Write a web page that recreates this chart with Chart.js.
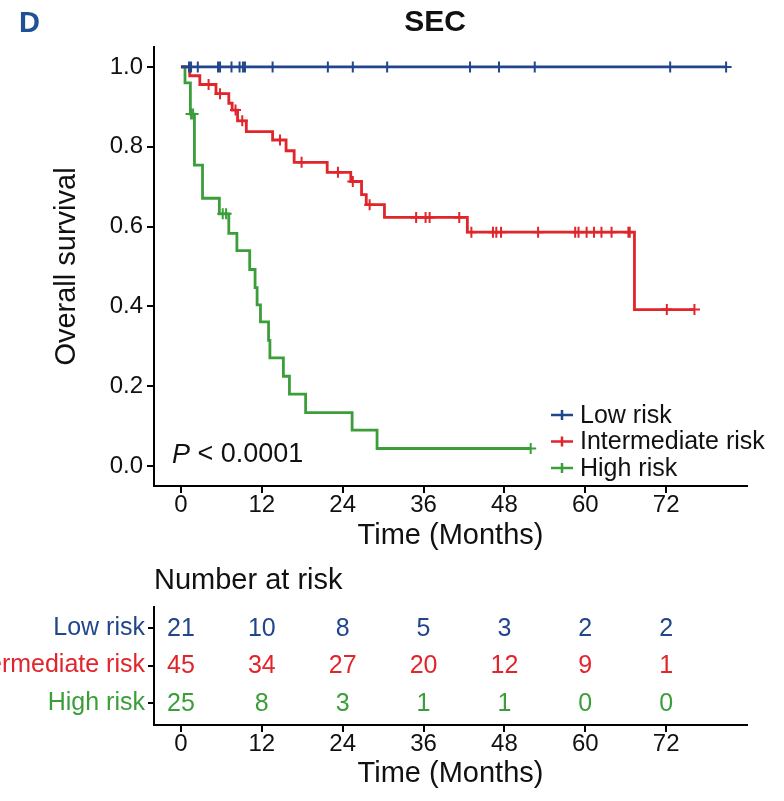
<!DOCTYPE html>
<html>
<head>
<meta charset="utf-8">
<title>SEC overall survival</title>
<script src="https://cdn.jsdelivr.net/npm/chart.js@4.4.1/dist/chart.umd.min.js"></script>
<style>
  body { margin: 0; background: #fff; }
  #wrap { position: relative; width: 784px; height: 801px; }
  #km { position: absolute; left: 0; top: 0; }
  #risk { position: absolute; left: 0; top: 560px; }
</style>
</head>
<body>
<div id="wrap">
  <canvas id="km" width="784" height="560"></canvas>
  <canvas id="risk" width="784" height="241"></canvas>
</div>
<script>
const groups = ['Low risk', 'Intermediate risk', 'High risk'];
const groupColors = ['#22468c', '#e0252b', '#3b9e3b'];
const timeTicks = [0, 12, 24, 36, 48, 60, 72];
const survivalTicks = [0, 0.2, 0.4, 0.6, 0.8, 1.0];

// KM steps: time of each drop (months) and survival right after it
const lowTimes = [0];
const lowSurv = [1.0];
const lowEnd = 80.9;
const lowCensored = [1.2, 1.5, 2.5, 5.5, 5.8, 7.5, 8.7, 9.2, 9.5, 13.6, 21.8, 25.5, 30.6, 42.9, 47.2, 52.5, 72.6, 80.9];

const midTimes = [0, 1.3, 2.8, 5.2, 7.1, 7.6, 8.4, 9.7, 13.6, 15.6, 16.8, 21.7, 25.2, 26.8, 27.5, 30.2, 42.5, 67.3];
const midSurv = [1.0, 0.978, 0.956, 0.933, 0.909, 0.892, 0.865, 0.838, 0.817, 0.790, 0.761, 0.736, 0.713, 0.680, 0.655, 0.623, 0.586, 0.392];
const midEnd = 76.2;
const midCensored = [4.1, 5.8, 8.1, 9.1, 14.7, 17.9, 23.3, 25.5, 28.0, 34.9, 36.3, 36.9, 41.3, 43.1, 46.3, 46.8, 47.5, 53.0, 58.5, 59.0, 60.2, 61.3, 62.4, 63.9, 66.4, 66.6, 72.1, 76.2];

const highTimes = [0, 0.6, 1.4, 2.0, 3.2, 5.7, 7.1, 8.3, 10.2, 11.0, 11.3, 11.8, 13.0, 13.2, 15.2, 16.1, 18.5, 25.4, 29.1];
const highSurv = [1.0, 0.96, 0.882, 0.754, 0.671, 0.632, 0.583, 0.54, 0.4925, 0.447, 0.404, 0.361, 0.315, 0.271, 0.225, 0.18, 0.134, 0.09, 0.044];
const highEnd = 51.9;
const highCensored = [1.5, 1.8, 6.2, 6.7, 51.9];

// number at risk at each time tick
const atRiskLow = [21, 10, 8, 5, 3, 2, 2];
const atRiskMid = [45, 34, 27, 20, 12, 9, 1];
const atRiskHigh = [25, 8, 3, 1, 1, 0, 0];

const FONT = '"Liberation Sans", Arial, Helvetica, sans-serif';
const INK = '#111';
Chart.defaults.font.family = FONT;
Chart.defaults.color = INK;

function stepPoints(times, surv, end) {
  const pts = times.map((t, i) => ({ x: t, y: surv[i] }));
  pts.push({ x: end, y: surv[surv.length - 1] });
  return pts;
}

function survivalAt(times, surv, t) {
  let s = surv[0];
  times.forEach((ti, i) => { if (ti <= t) s = surv[i]; });
  return s;
}

const curves = [
  [lowTimes, lowSurv, lowEnd, lowCensored],
  [midTimes, midSurv, midEnd, midCensored],
  [highTimes, highSurv, highEnd, highCensored]
];

const kmDatasets = [];
curves.forEach(([times, surv, end, censored], i) => {
  kmDatasets.push({
    type: 'line',
    label: groups[i],
    data: stepPoints(times, surv, end),
    stepped: true,
    borderColor: groupColors[i],
    borderWidth: 2.8,
    pointRadius: 0,
    fill: false
  });
  kmDatasets.push({
    type: 'scatter',
    label: groups[i] + ' (censored)',
    data: censored.map(t => ({ x: t, y: survivalAt(times, surv, t) })),
    pointStyle: 'cross',
    pointRadius: 5.5,
    borderColor: groupColors[i],
    borderWidth: 2,
    showLine: false
  });
});

function axisGrid(len) {
  return { display: true, drawOnChartArea: false, drawTicks: true, tickLength: len, color: '#000', lineWidth: 2 };
}
const axisBorder = { display: true, color: '#000', width: 2 };

function timeAxis(height, titlePad) {
  return {
    type: 'linear',
    min: -4,
    max: 84,
    afterBuildTicks: s => { s.ticks = timeTicks.map(v => ({ value: v })); },
    afterFit: s => { s.height = height; },
    ticks: { font: { size: 24 }, color: INK, padding: -2, maxRotation: 0, autoSkip: false },
    grid: axisGrid(7),
    border: axisBorder,
    title: { display: true, text: 'Time (Months)', font: { size: 29 }, color: INK, padding: { top: 0, bottom: titlePad } }
  };
}

// headline, legend and p value drawn on the survival panel
const kmDecor = {
  id: 'kmDecor',
  afterDraw(chart) {
    const { ctx, chartArea } = chart;
    ctx.save();
    ctx.textBaseline = 'middle';

    ctx.fillStyle = '#1d5395';
    ctx.font = 'bold 29px ' + FONT;
    ctx.textAlign = 'left';
    ctx.fillText('D', 19, 24);

    ctx.fillStyle = INK;
    ctx.font = 'bold 30px ' + FONT;
    ctx.textAlign = 'center';
    ctx.fillText('SEC', 435, 23);

    ctx.textAlign = 'left';
    ctx.font = '25px ' + FONT;
    const x0 = chartArea.right - 196;
    groups.forEach((name, i) => {
      const y = chartArea.bottom - 71 + i * 26.5;
      ctx.strokeStyle = groupColors[i];
      ctx.lineWidth = 2.5;
      ctx.beginPath();
      ctx.moveTo(x0, y);
      ctx.lineTo(x0 + 22, y);
      ctx.moveTo(x0 + 11, y - 5);
      ctx.lineTo(x0 + 11, y + 5);
      ctx.stroke();
      ctx.fillStyle = INK;
      ctx.fillText(name, x0 + 29, y + 1);
    });

    const px = chartArea.left + 18;
    const py = chartArea.bottom - 31;
    ctx.font = 'italic 27px ' + FONT;
    ctx.fillText('P', px, py);
    const pw = ctx.measureText('P').width;
    ctx.font = '27px ' + FONT;
    ctx.fillText(' < 0.0001', px + pw, py);
    ctx.restore();
  }
};

new Chart(document.getElementById('km'), {
  data: { datasets: kmDatasets },
  options: {
    responsive: false,
    animation: false,
    layout: { padding: { top: 47, right: 37, left: 0, bottom: 0 } },
    plugins: { legend: { display: false }, tooltip: { enabled: false } },
    scales: {
      x: timeAxis(74, 7),
      y: {
        type: 'linear',
        min: -0.05,
        max: 1.05,
        afterBuildTicks: s => { s.ticks = survivalTicks.map(v => ({ value: v })); },
        afterFit: s => { s.width = 154; },
        ticks: { font: { size: 24 }, color: INK, padding: 4, callback: v => v.toFixed(1) },
        grid: axisGrid(7),
        border: axisBorder,
        title: { display: true, text: 'Overall survival', font: { size: 29 }, color: INK, padding: { top: 50, bottom: 0 } }
      }
    }
  },
  plugins: [kmDecor]
});

// risk table: one row per group, counts written at each time tick
const riskCounts = [atRiskLow, atRiskMid, atRiskHigh];

const riskNumbers = {
  id: 'riskNumbers',
  afterDatasetsDraw(chart) {
    const { ctx } = chart;
    ctx.save();
    ctx.font = '25px ' + FONT;
    ctx.textAlign = 'center';
    ctx.textBaseline = 'middle';
    chart.data.datasets.forEach((ds, i) => {
      ctx.fillStyle = groupColors[i];
      chart.getDatasetMeta(i).data.forEach((pt, j) => {
        ctx.fillText(String(ds.counts[j]), pt.x, pt.y + 1);
      });
    });
    ctx.restore();
  }
};

new Chart(document.getElementById('risk'), {
  type: 'scatter',
  data: {
    datasets: riskCounts.map((counts, i) => ({
      label: groups[i],
      counts: counts,
      data: timeTicks.map(t => ({ x: t, y: i })),
      pointRadius: 0
    }))
  },
  options: {
    responsive: false,
    animation: false,
    layout: { padding: { top: 0, right: 37, left: 0, bottom: 0 } },
    plugins: {
      legend: { display: false },
      tooltip: { enabled: false },
      title: {
        display: true,
        text: 'Number at risk',
        align: 'start',
        fullSize: false,
        font: { size: 29, weight: 'normal' },
        color: INK,
        padding: { top: 4, bottom: 8 }
      }
    },
    scales: {
      x: timeAxis(76, 10),
      y: {
        type: 'linear',
        reverse: true,
        min: -0.56,
        max: 2.58,
        afterBuildTicks: s => { s.ticks = groups.map((_, i) => ({ value: i })); },
        afterFit: s => { s.width = 154; },
        ticks: {
          font: { size: 25 },
          padding: 3,
          color: c => groupColors[c.index],
          callback: v => groups[v]
        },
        grid: axisGrid(6),
        border: axisBorder
      }
    }
  },
  plugins: [riskNumbers]
});
</script>
</body>
</html>
